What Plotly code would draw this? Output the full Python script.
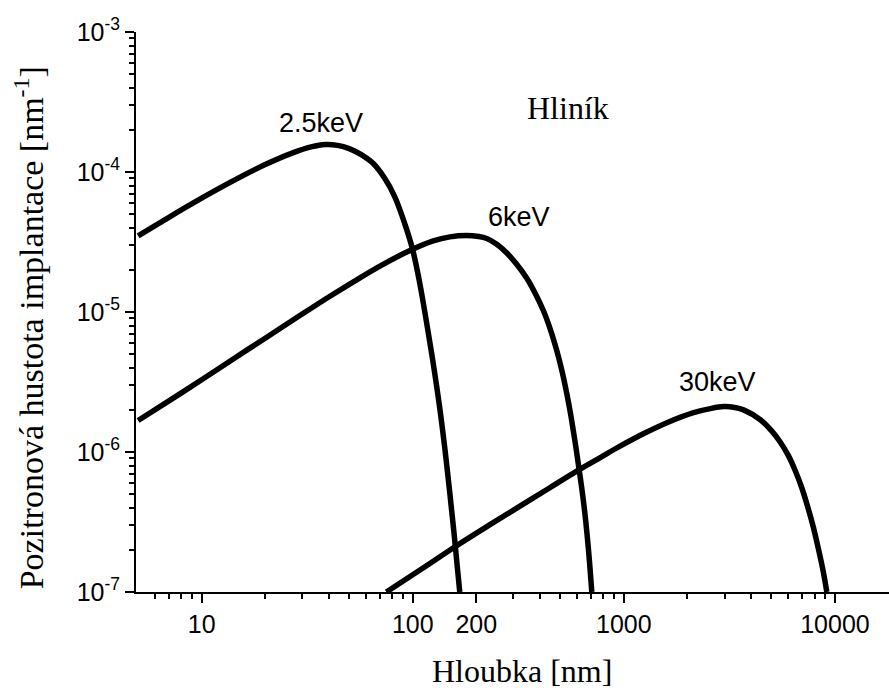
import plotly.graph_objects as go

# Data (depth in nm, implantation density in nm^-1)
depth_25 = [5, 7, 10, 14, 20, 27, 33, 38.5, 44, 50, 57, 65, 73, 82, 92, 100, 108, 116, 125, 134, 142, 150,
            157, 163, 167]
dens_25 = [3.5e-5, 4.75e-5, 6.5e-5, 8.6e-5, 1.13e-4, 1.37e-4, 1.51e-4, 1.57e-4, 1.55e-4, 1.47e-4, 1.33e-4,
           1.15e-4, 9.2e-5, 6.7e-5, 4.2e-5, 2.77e-5, 1.6e-5, 8.6e-6, 4.3e-6, 2.1e-6, 1.05e-6, 5.0e-7,
           2.6e-7, 1.45e-7, 1.0e-7]

depth_6 = [5, 7, 10, 14, 20, 28, 40, 55, 72, 97, 125, 150, 180, 205, 224, 250, 279, 310, 347, 380, 416,
           450, 481, 510, 537, 560, 577, 595, 610, 627, 643, 660, 679, 692, 705]
dens_6 = [1.68e-6, 2.32e-6, 3.28e-6, 4.58e-6, 6.5e-6, 9.05e-6, 1.28e-5, 1.72e-5, 2.18e-5, 2.75e-5, 3.22e-5,
          3.44e-5, 3.52e-5, 3.46e-5, 3.35e-5, 3.05e-5, 2.64e-5, 2.2e-5, 1.74e-5, 1.36e-5, 1.02e-5,
          7.4e-6, 5.3e-6, 3.75e-6, 2.6e-6, 1.85e-6, 1.4e-6, 1.04e-6, 8.0e-7, 6.0e-7, 4.5e-7, 3.2e-7,
          2.05e-7, 1.45e-7, 1.0e-7]

depth_30 = [75, 110, 162, 230, 322, 450, 598, 780, 959, 1250, 1600, 2140, 2600, 2970, 3300, 3690, 4430,
            5000, 5500, 6000, 6450, 6950, 7450, 7900, 8400, 8800, 9150]
dens_30 = [1.0e-7, 1.46e-7, 2.15e-7, 3.0e-7, 4.1e-7, 5.6e-7, 7.3e-7, 9.2e-7, 1.1e-6, 1.36e-6, 1.62e-6,
           1.91e-6, 2.05e-6, 2.11e-6, 2.09e-6, 2.0e-6, 1.7e-6, 1.42e-6, 1.18e-6, 9.5e-7, 7.5e-7, 5.6e-7,
           4.0e-7, 2.9e-7, 1.95e-7, 1.4e-7, 1.0e-7]

curve_labels = ["2.5keV", "6keV", "30keV"]
x_tick_vals = [10, 100, 200, 1000, 10000]
x_tick_text = ["10", "100", "200", "1000", "10000"]
y_tick_vals = [1e-7, 1e-6, 1e-5, 1e-4, 1e-3]
y_tick_text = ["10<sup>-7</sup>", "10<sup>-6</sup>", "10<sup>-5</sup>", "10<sup>-4</sup>", "10<sup>-3</sup>"]

x_minor = [m * 10 ** d for d in range(0, 5) for m in range(2, 10)]
x_minor = [v for v in x_minor if v > 5 and v not in x_tick_vals]
y_minor = [m * 10.0 ** d for d in range(-7, -3) for m in range(2, 10)]

SANS = "Liberation Sans, Arial, Helvetica, sans-serif"
SERIF = "Liberation Serif, Times New Roman, serif"

fig = go.Figure()
for xs, ys, name in [(depth_25, dens_25, curve_labels[0]), (depth_6, dens_6, curve_labels[1]),
                     (depth_30, dens_30, curve_labels[2])]:
    fig.add_trace(go.Scatter(x=xs, y=ys, mode="lines", name=name,
                             line=dict(color="black", width=5.5, shape="spline", smoothing=1.0)))

axis_common = dict(
    showline=True, linecolor="black", linewidth=2, showgrid=False, zeroline=False,
    ticks="outside", ticklen=9, tickwidth=2, tickcolor="black",
    tickfont=dict(family=SANS, size=25, color="black"),
)

fig.update_xaxes(type="log", range=[0.689, 4.256], tickmode="array", tickvals=x_tick_vals,
                 ticktext=x_tick_text,
                 minor=dict(tickmode="array", tickvals=x_minor, ticks="outside", ticklen=5,
                            tickwidth=2, tickcolor="black", showgrid=False),
                 **axis_common)
fig.update_yaxes(type="log", range=[-7, -3], tickmode="array", tickvals=y_tick_vals,
                 ticktext=y_tick_text,
                 minor=dict(tickmode="array", tickvals=y_minor, ticks="outside", ticklen=5,
                            tickwidth=2, tickcolor="black", showgrid=False),
                 **axis_common)

annotations = [
    dict(text=curve_labels[0], x=1.565, y=-3.65, xref="x", yref="y", showarrow=False,
         font=dict(family=SANS, size=27, color="black")),
    dict(text=curve_labels[1], x=2.504, y=-4.321, xref="x", yref="y", showarrow=False,
         font=dict(family=SANS, size=27, color="black")),
    dict(text=curve_labels[2], x=3.444, y=-5.498, xref="x", yref="y", showarrow=False,
         font=dict(family=SANS, size=27, color="black")),
    dict(text="Hliník", x=2.736, y=-3.543, xref="x", yref="y", showarrow=False,
         font=dict(family=SERIF, size=32, color="black")),
    dict(text="Hloubka [nm]", x=0.513, y=-0.141, xref="paper", yref="paper", showarrow=False,
         xanchor="center", yanchor="middle", font=dict(family=SERIF, size=32, color="black")),
    dict(text="Pozitronová hustota implantace [nm<sup>-1</sup>]", x=-0.142, y=0.471,
         xref="paper", yref="paper", showarrow=False, textangle=-90,
         xanchor="center", yanchor="middle", font=dict(family=SERIF, size=34, color="black")),
]

fig.update_layout(
    width=889, height=688,
    margin=dict(l=136, r=0, t=32, b=96, pad=0),
    plot_bgcolor="white", paper_bgcolor="white",
    showlegend=False,
    annotations=annotations,
)

fig.write_html("out.html")
